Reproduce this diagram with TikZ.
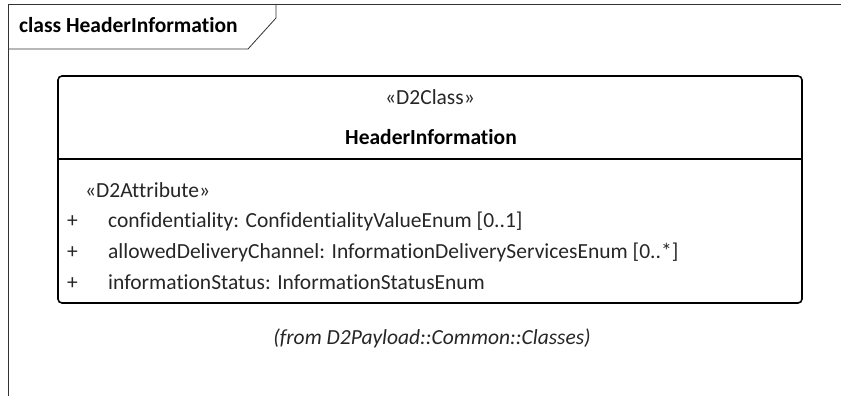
\documentclass[tikz,border=0pt]{standalone}
\usepackage{fontspec}
\setmainfont{Carlito}[Ligatures=NoCommon]
\usetikzlibrary{positioning}
\begin{document}
\begin{tikzpicture}[x=1pt,y=-1pt,
  txt/.style={inner sep=0pt,text=black!85,font=\fontsize{21.5}{25}\selectfont},
  attr/.style={txt,anchor=base west}]
\useasboundingbox (0,0) rectangle (841,396);
% diagram frame and its tab
\draw[line width=0.8pt,black!80] (8,396) -- (8,4) -- (841,4);
\draw[line width=0.8pt,black!80] (8,49) -- (248,49) -- (276,18) -- (276,4);
\node[txt,anchor=base west,text=black,font=\fontsize{21.5}{25}\selectfont\bfseries] (title) at (19,33) {class HeaderInformation};
% class box
\draw[line width=1.6pt,rounded corners=4pt] (58,76) rectangle (802,303);
\draw[line width=1.2pt] (58,159) -- (802,159);
\node[txt,anchor=base] (stereo) at (430,104) {«D2Class»};
\node[txt,anchor=base,text=black,font=\fontsize{21.5}{25}\selectfont\bfseries] (cname) at (431,144) {HeaderInformation};
% attributes
\node[attr] (astereo) at (85,197) {«D2Attribute»};
\node[attr] (p1) at (67,227) {+};
\node[attr] (a1) at (108,227) {confidentiality: ConfidentialityValueEnum [0..1]};
\node[attr] (p2) at (67,258) {+};
\node[attr] (a2) at (108,258) {allowedDeliveryChannel: InformationDeliveryServicesEnum [0..*]};
\node[attr] (p3) at (67,289) {+};
\node[attr] (a3) at (108,289) {informationStatus: InformationStatusEnum};
% package note
\node[txt,anchor=base,font=\fontsize{21.5}{25}\selectfont\itshape] (from) at (432,344) {(from D2Payload::Common::Classes)};
\end{tikzpicture}
\end{document}
